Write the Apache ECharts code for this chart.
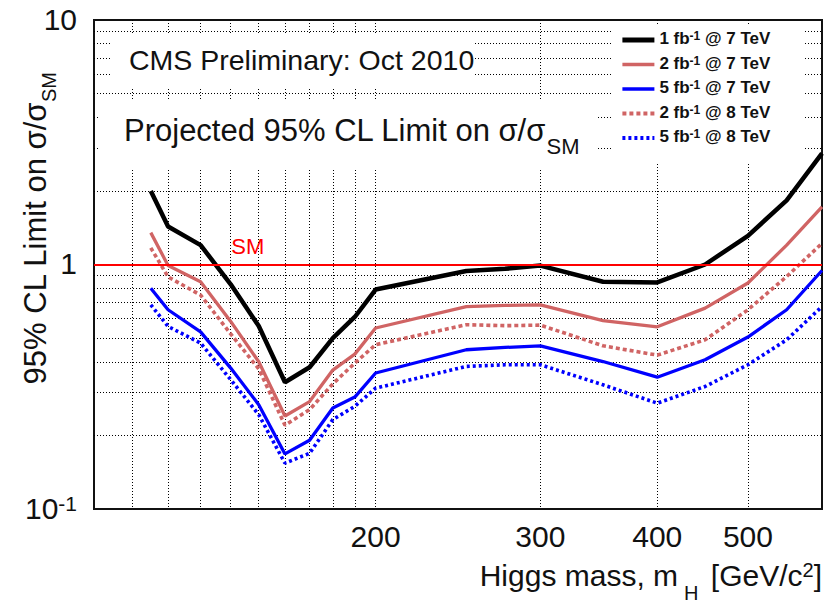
<!DOCTYPE html>
<html><head><meta charset="utf-8">
<script src="https://cdn.jsdelivr.net/npm/echarts@6/dist/echarts.min.js"></script>
<style>html,body{margin:0;padding:0;background:#fff}#c{width:835px;height:607px}</style>
</head><body><div id="c"></div>
<script>
// Higgs mass points (GeV/c^2)
const masses = [115,120,130,140,150,160,170,180,190,200,250,275,300,350,400,450,500,550,600];
// Projected 95% CL limits on sigma/sigma_SM
const lim1fb7TeV = [2.00,1.43,1.20,0.83,0.56,0.33,0.38,0.50,0.61,0.79,0.94,0.96,0.99,0.85,0.845,1.00,1.31,1.83,2.85];
const lim2fb7TeV = [1.35,0.99,0.85,0.585,0.40,0.24,0.275,0.37,0.43,0.55,0.673,0.68,0.684,0.59,0.556,0.663,0.84,1.20,1.72];
const lim5fb7TeV = [0.80,0.653,0.53,0.377,0.267,0.168,0.191,0.259,0.287,0.36,0.448,0.458,0.465,0.401,0.346,0.408,0.505,0.653,0.945];
const lim2fb8TeV = [1.17,0.89,0.75,0.52,0.374,0.22,0.255,0.325,0.395,0.47,0.567,0.562,0.565,0.465,0.426,0.492,0.653,0.893,1.22];
const lim5fb8TeV = [0.684,0.558,0.477,0.338,0.243,0.154,0.169,0.232,0.263,0.312,0.383,0.389,0.389,0.322,0.271,0.317,0.389,0.492,0.673];
const seriesNames = ['1 fb⁻¹ @ 7 TeV','2 fb⁻¹ @ 7 TeV','5 fb⁻¹ @ 7 TeV','2 fb⁻¹ @ 8 TeV','5 fb⁻¹ @ 8 TeV'];
// axis ticks
const xTickLabels = [200,300,400,500];
const xGridValues = [110,120,130,140,150,160,170,180,190,200,300,400,500];
const yTickLabels = [0.1,1,10];
const yGridValues = [0.2,0.3,0.4,0.5,0.6,0.7,0.8,0.9,2,3,4,5,6,7,8,9];
const smLevel = 1;
const smLabelMass = 146;

const FONT = 'Liberation Sans, Arial, Helvetica, sans-serif';
const chart = echarts.init(document.getElementById('c'), null, {renderer:'svg'});

function pairs(vals){ return masses.map((m,i)=>[m, vals[i]]); }
const styles = [
  {color:'#000000', width:4.5, type:'solid'},
  {color:'#d06464', width:3.3, type:'solid'},
  {color:'#0000ff', width:3.3, type:'solid'},
  {color:'#d06464', width:3.6, type:[4,3]},
  {color:'#0000ff', width:3.6, type:[3,3]}
];
const allVals = [lim1fb7TeV, lim2fb7TeV, lim5fb7TeV, lim2fb8TeV, lim5fb8TeV];
const series = allVals.map((v,i)=>({
  name: seriesNames[i], type:'line', data: pairs(v), symbol:'none', z: 3 + (4 - i)*0.01,
  lineStyle:{color:styles[i].color, width:styles[i].width, type:styles[i].type},
  itemStyle:{color:styles[i].color}, animation:false
}));
series.unshift({
  name:'SM', type:'line', data:[], symbol:'none', z:2, animation:false,
  markLine:{silent:true, symbol:['none','none'], animation:false,
    lineStyle:{color:'#ff0000', width:2, type:'solid'}, label:{show:false},
    data:[{yAxis:smLevel}]},
  markPoint:{silent:true, animation:false, symbol:'circle', symbolSize:1, itemStyle:{color:'rgba(0,0,0,0)'},
    label:{show:true, position:'top', distance:7, formatter:'SM', color:'#ff0000', fontSize:22, fontFamily:FONT},
    data:[{coord:[smLabelMass, smLevel]}]}
});

const gridDot = {show:true, lineStyle:{color:'#000', width:1, type:[1,2]}};

chart.setOption({
  backgroundColor:'#ffffff',
  animation:false,
  grid:{left:94, top:20, right:13, bottom:98, containLabel:false, outerBoundsMode:'none',
        show:true, borderColor:'#111', borderWidth:2, backgroundColor:'transparent'},
  title:[
    {text:'{a|CMS Preliminary: Oct 2010}', left:129, top:45, padding:0,
     textStyle:{fontWeight:'normal', rich:{a:{fontSize:28.5, fontWeight:'normal', fontFamily:FONT, color:'#111', lineHeight:30}}}},
    {text:'{a|Projected 95% CL Limit on σ/σ}{s|SM}', left:124, top:115, padding:0,
     textStyle:{fontWeight:'normal', rich:{a:{fontSize:31, fontWeight:'normal', fontFamily:FONT, color:'#111', lineHeight:34, verticalAlign:'top'},
                      s:{fontSize:22, fontWeight:'normal', fontFamily:FONT, color:'#111', lineHeight:20, verticalAlign:'top', padding:[20,0,0,0]}}}}
  ],
  legend:{
    data: seriesNames.map((n,i)=>({name:n, lineStyle:{width:styles[i].width + 0.3}})),
    orient:'vertical', left:620, top:30, padding:0,
    itemWidth:32, itemHeight:14, itemGap:7.5,
    itemStyle:{opacity:0},
    formatter:n=>{const p=n.split('⁻¹'); return '{t|'+p[0]+'}{s|-1}{t|'+p[1]+'}';},
    textStyle:{rich:{
      t:{fontSize:17, fontWeight:'bold', fontFamily:FONT, color:'#111', lineHeight:20, verticalAlign:'top'},
      s:{fontSize:12, fontWeight:'bold', fontFamily:FONT, color:'#111', lineHeight:12, verticalAlign:'top'}
    }}
  },
  graphic:[
    {type:'rect', z:1, silent:true, shape:{x:110, y:34, width:365, height:54}, style:{fill:'#fff'}},
    {type:'rect', z:1, silent:true, shape:{x:100, y:100, width:497, height:68}, style:{fill:'#fff'}},
    {type:'rect', z:1, silent:true, shape:{x:612, y:24, width:191, height:139}, style:{fill:'#fff'}}
  ],
  xAxis:{
    type:'log', logBase:10, min:100, max:600,
    name:'{a|Higgs mass, m}{s|H}{a| [GeV/c}{p|2}{a|]}', nameLocation:'end', nameGap:0, nameMoveOverlap:false,
    nameTextStyle:{align:'right', verticalAlign:'top', color:'#111', padding:[51,0,0,0], rich:{
      a:{fontSize:30, fontFamily:FONT, color:'#111', lineHeight:33, verticalAlign:'top'},
      s:{fontSize:20, fontFamily:FONT, color:'#111', lineHeight:20, verticalAlign:'top', padding:[23,4,0,6]},
      p:{fontSize:20, fontFamily:FONT, color:'#111', lineHeight:20, verticalAlign:'top', padding:[0,0,0,0]}
    }},
    axisLine:{show:false}, axisTick:{show:false, customValues:xGridValues},
    axisLabel:{customValues:xTickLabels, fontSize:30, fontFamily:FONT, color:'#111', margin:12, formatter:v=>String(Math.round(v))},
    splitLine:gridDot, minorTick:{show:false}, minorSplitLine:{show:false}
  },
  yAxis:{
    type:'log', logBase:10, min:0.1, max:10,
    name:'{a|95% CL Limit on σ/σ}{s|SM}', nameLocation:'middle', nameGap:40, nameMoveOverlap:false,
    nameTextStyle:{color:'#111', padding:[0,0,0,72], rich:{
      a:{fontSize:31, fontFamily:FONT, color:'#111', lineHeight:34, verticalAlign:'top'},
      s:{fontSize:20, fontFamily:FONT, color:'#111', lineHeight:20, verticalAlign:'top', padding:[19,0,0,0]}
    }},
    axisLine:{show:false}, axisTick:{show:false, customValues:yGridValues},
    axisLabel:{customValues:yTickLabels, margin:17, fontFamily:FONT, color:'#111',
      formatter:v=>{ if (Math.abs(v-0.1)<1e-9) return '{b|10}{s|-1}'; return '{b|'+Math.round(v)+'}'; },
      rich:{b:{fontSize:30, fontFamily:FONT, color:'#111', lineHeight:32, verticalAlign:'top'},
            s:{fontSize:21, fontFamily:FONT, color:'#111', lineHeight:22, verticalAlign:'top'}}},
    splitLine:gridDot, minorTick:{show:false}, minorSplitLine:{show:false}
  },
  series: series
});
</script></body></html>
